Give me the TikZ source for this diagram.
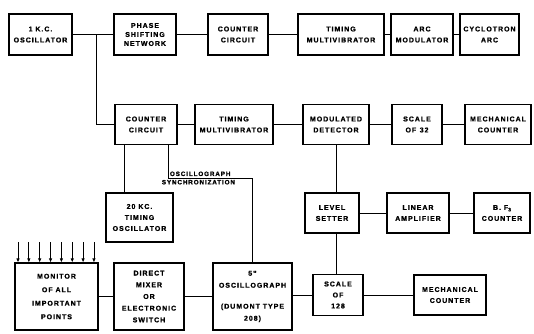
\documentclass[tikz,border=0pt]{standalone}
\usepackage{fontspec}
\setsansfont[LetterSpace=14,BoldFeatures={FakeBold=1.2}]{Liberation Sans}
\usepackage{tikz}
\usetikzlibrary{arrows.meta}

\begin{document}
\begin{tikzpicture}[x=1pt,y=-1pt,
  blk/.style={draw,line width=1.1pt,align=center,inner sep=0pt,
    font=\fontsize{7}{11}\selectfont\sffamily\bfseries},
  lbl/.style={inner sep=1.5pt,font=\fontsize{6.3}{8}\selectfont\sffamily\bfseries},
  wire/.style={line width=0.9pt}]
\useasboundingbox (0,0) rectangle (534,333);
% top row
\node[blk,minimum width=63pt,minimum height=41pt] (osc1) at (40.5,34.5) {1 K.C.\\OSCILLATOR};
\node[blk,minimum width=62pt,minimum height=41pt,font=\fontsize{7}{9}\selectfont\sffamily\bfseries] (phase) at (145,34.5) {PHASE\\SHIFTING\\NETWORK};
\node[blk,minimum width=60pt,minimum height=41pt] (cnt1) at (238,34.5) {COUNTER\\CIRCUIT};
\node[blk,minimum width=86pt,minimum height=41pt] (tmv1) at (341,34.5) {TIMING\\MULTIVIBRATOR};
\node[blk,minimum width=62pt,minimum height=41pt] (arcmod) at (422,34.5) {ARC\\MODULATOR};
\node[blk,minimum width=59pt,minimum height=41pt] (cyc) at (489.5,34.5) {CYCLOTRON\\ARC};
% second row
\node[blk,minimum width=62pt,minimum height=40pt] (cnt2) at (146,124.5) {COUNTER\\CIRCUIT};
\node[blk,minimum width=78pt,minimum height=40pt] (tmv2) at (234,124.5) {TIMING\\MULTIVIBRATOR};
\node[blk,minimum width=66pt,minimum height=40pt] (moddet) at (336,124.5) {MODULATED\\DETECTOR};
\node[blk,minimum width=50pt,minimum height=40pt] (sc32) at (417,124.5) {SCALE\\OF\enspace 32};
\node[blk,minimum width=66pt,minimum height=40pt] (mech1) at (498,124.5) {MECHANICAL\\COUNTER};
% third row
\node[blk,minimum width=67pt,minimum height=49pt] (kc20) at (139.5,217.5) {20 KC.\\TIMING\\OSCILLATOR};
\node[blk,minimum width=54pt,minimum height=40pt] (level) at (332,213) {LEVEL\\SETTER};
\node[blk,minimum width=62pt,minimum height=40pt] (linamp) at (418,213) {LINEAR\\AMPLIFIER};
\node[blk,minimum width=56pt,minimum height=40pt] (bf3) at (502,213) {B. F\raisebox{-1.5pt}{\fontsize{5}{5}\selectfont 3}\\COUNTER};
% bottom row
\node[blk,minimum width=83pt,minimum height=67pt,font=\fontsize{7}{13.5}\selectfont\sffamily\bfseries] (mon) at (56.5,296.5) {MONITOR\\OF ALL\\IMPORTANT\\POINTS};
\node[blk,minimum width=70pt,minimum height=67pt,font=\fontsize{7}{11.7}\selectfont\sffamily\bfseries] (mixer) at (149,296.5) {DIRECT\\MIXER\\OR\\ELECTRONIC\\SWITCH};
\node[blk,minimum width=79pt,minimum height=67pt,font=\fontsize{7}{12}\selectfont\sffamily\bfseries] (scope) at (252.5,296.5) {5"\\OSCILLOGRAPH\\[9pt](DUMONT TYPE\\208)};
\node[blk,minimum width=50pt,minimum height=41pt] (sc128) at (338,295) {SCALE\\OF\\128};
\node[blk,minimum width=72pt,minimum height=40pt] (mech2) at (450,295) {MECHANICAL\\COUNTER};

\draw[wire] (osc1) -- (phase) -- (cnt1) -- (tmv1) -- (arcmod) -- (cyc);
\coordinate (tap) at (96,34.5);
\draw[wire] (tap) |- (cnt2);
\draw[wire] (cnt2) -- (tmv2) -- (moddet) -- (sc32) -- (mech1);
\draw[wire] ([xshift=-22pt]cnt2.south) -- ([xshift=-22pt]cnt2.south |- kc20.north);
\coordinate (syn) at (252.5,178);
\draw[wire] ([xshift=22pt]cnt2.south) |- node[lbl,pos=0.5,above right] {OSCILLOGRAPH}
  node[lbl,pos=0.68,below] {SYNCHRONIZATION} (syn) -- (scope);
\draw[wire] (moddet) -- (moddet |- level.north);
\draw[wire] (level.south -| moddet) -- (sc128.north -| moddet);
\draw[wire] (level) -- (linamp) -- (bf3);
\draw[wire] (mon) -- (mixer) -- (scope);
\draw[wire] (scope.east |- sc128) -- (sc128);
\draw[wire] (sc128) -- (mech2);
\foreach \i in {0,...,7} {
  \coordinate (in\i) at (18+\i*10.85,242);
  \draw[wire,-{Latex[length=4pt,width=3.5pt]}] (in\i) -- (in\i |- mon.north);
}
\end{tikzpicture}
\end{document}
